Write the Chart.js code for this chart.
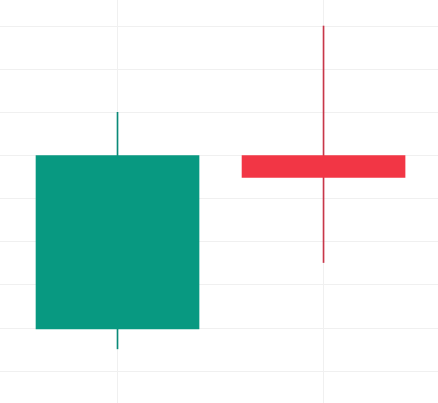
<!DOCTYPE html>
<html>
<head>
<meta charset="utf-8">
<script src="https://cdn.jsdelivr.net/npm/chart.js@4"></script>
<style>
html,body{margin:0;padding:0;background:#fff;}
#wrap{width:438px;height:403px;}
</style>
</head>
<body>
<div id="wrap"><canvas id="c"></canvas></div>
<script>
const positions = [1, 2];
const opens  = [100.98, 105.0];
const highs  = [106.0, 108.0];
const lows   = [100.52, 102.52];
const closes = [105.0, 104.49];
const upColor = '#089981';
const downColor = '#F23645';
const upWick = '#0a8a78';
const downWick = '#c8374a';

const isUp = closes.map((c, i) => c >= opens[i]);
const bodyData = positions.map((x, i) => ({x: x, y: [opens[i], closes[i]]}));
const wickData = positions.map((x, i) => ({x: x, y: [lows[i], highs[i]]}));

new Chart(document.getElementById('c'), {
  type: 'bar',
  data: {
    datasets: [
      {
        data: bodyData,
        backgroundColor: isUp.map(u => u ? upColor : downColor),
        barThickness: 163,
        grouped: false,
        order: 0,
        borderWidth: 0
      },
      {
        data: wickData,
        backgroundColor: isUp.map(u => u ? upWick : downWick),
        barThickness: 1,
        grouped: false,
        order: 1,
        borderWidth: 0
      }
    ]
  },
  options: {
    responsive: true,
    maintainAspectRatio: false,
    animation: false,
    layout: {padding: 0},
    plugins: {legend: {display: false}, tooltip: {enabled: false}},
    scales: {
      x: {
        type: 'linear',
        offset: false,
        min: 0.4296,
        max: 2.5556,
        ticks: {display: false, stepSize: 1, includeBounds: false},
        grid: {color: '#f0f0f0', drawTicks: false, offset: false},
        border: {display: false}
      },
      y: {
        type: 'linear',
        min: 99.265,
        max: 108.603,
        ticks: {display: false, stepSize: 1, includeBounds: false},
        grid: {color: '#f0f0f0', drawTicks: false},
        border: {display: false}
      }
    }
  }
});
</script>
</body>
</html>
